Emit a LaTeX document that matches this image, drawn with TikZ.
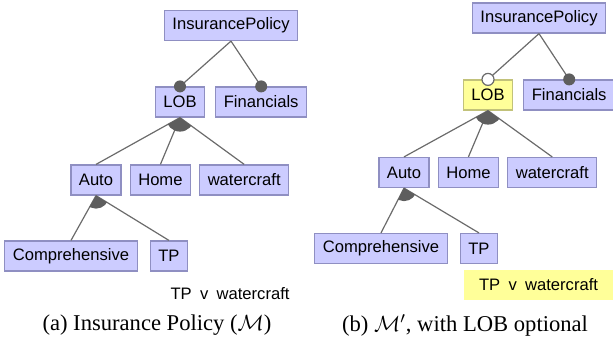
\documentclass[tikz,border=0pt]{standalone}
\usepackage{fontspec}
\setmainfont{Liberation Serif}
\newfontfamily\featfont{Liberation Sans}
\usetikzlibrary{positioning}
\definecolor{featblue}{HTML}{CCCCFF}
\definecolor{featedge}{HTML}{8F8FC2}
\definecolor{optyellow}{HTML}{FFFF99}
\definecolor{yellowedge}{HTML}{C2C27A}
\definecolor{linkgray}{HTML}{6B6B6B}
\definecolor{dotgray}{HTML}{5E5E5E}

\begin{document}
\begin{tikzpicture}[x=0.5pt, y=-0.5pt,
                feature/.style={draw=featedge, fill=featblue, line width=0.6pt,
                                font=\featfont\fontsize{8.3}{10}\selectfont,
                                inner xsep=4pt, inner ysep=0pt, minimum height=15pt},
                optfeat/.style={feature, draw=yellowedge, fill=optyellow},
                link/.style={draw=linkgray, line width=0.6pt},
                mand/.style={fill=dotgray},
                opt/.style={draw=linkgray, line width=0.6pt, fill=white},
                grp/.style={fill=dotgray},
                constr/.style={font=\featfont\fontsize{8.3}{10}\selectfont, inner sep=0pt},
                caption/.style={font=\fontsize{11.3}{13}\selectfont, inner sep=0pt}]

                \useasboundingbox (0,0) rectangle (613,343);

                % (a) Insurance Policy
                \node[feature] (aip) at (231,25.5) {InsurancePolicy};
                \node[feature] (alob) at (180,102) {LOB};
                \node[feature, right=5pt of alob] (afin) {Financials};
                \node[feature] (aauto) at (96,180) {Auto};
                \node[feature, right=4pt of aauto] (ahome) {Home};
                \node[feature, right=4pt of ahome] (awater) {watercraft};
                \node[feature] (acomp) at (71,256) {Comprehensive};
                \node[feature, right=6pt of acomp] (atp) {TP};

                \draw[link] (aip.south) -- (alob.north);
                \draw[link] (aip.south) -- (afin.north);
                \draw[link] (alob.south) -- (aauto.north);
                \draw[link] (alob.south) -- (ahome.north);
                \draw[link] (alob.south) -- (awater.north);
                \draw[link] (aauto.south) -- (acomp.north);
                \draw[link] (aauto.south) -- (atp.north);

                \fill[mand] (alob.north) circle (3pt);
                \fill[mand] (afin.north) circle (3pt);
                \begin{scope}
                    \clip (alob.south) -- (aauto.north) -- (awater.north) -- cycle;
                    \fill[grp] (alob.south) circle (7pt);
                \end{scope}
                \begin{scope}
                    \clip (aauto.south) -- (acomp.north) -- (atp.north) -- cycle;
                    \fill[grp] (aauto.south) circle (6.5pt);
                \end{scope}

                \node[constr] (acons) at (230,294) {TP\enspace v\enspace watercraft};
                \node[caption] (acap) at (157,325) {(a) Insurance Policy ($\mathcal{M}$)};

                % (b) LOB optional
                \node[feature] (bip) at (539,18) {InsurancePolicy};
                \node[optfeat] (blob) at (488,95) {LOB};
                \node[feature, right=5pt of blob] (bfin) {Financials};
                \node[feature] (bauto) at (404,172.5) {Auto};
                \node[feature, right=4pt of bauto] (bhome) {Home};
                \node[feature, right=4pt of bhome] (bwater) {watercraft};
                \node[feature] (bcomp) at (381,248.5) {Comprehensive};
                \node[feature, right=6pt of bcomp] (btp) {TP};

                \draw[link] (bip.south) -- (blob.north);
                \draw[link] (bip.south) -- (bfin.north);
                \draw[link] (blob.south) -- (bauto.north);
                \draw[link] (blob.south) -- (bhome.north);
                \draw[link] (blob.south) -- (bwater.north);
                \draw[link] (bauto.south) -- (bcomp.north);
                \draw[link] (bauto.south) -- (btp.north);

                \filldraw[opt] (blob.north) circle (3pt);
                \fill[mand] (bfin.north) circle (3pt);
                \begin{scope}
                    \clip (blob.south) -- (bauto.north) -- (bwater.north) -- cycle;
                    \fill[grp] (blob.south) circle (7pt);
                \end{scope}
                \begin{scope}
                    \clip (bauto.south) -- (bcomp.north) -- (btp.north) -- cycle;
                    \fill[grp] (bauto.south) circle (6.5pt);
                \end{scope}

                \node[constr, fill=optyellow, minimum width=74.5pt, minimum height=15pt]
                    (bcons) at (538.5,285) {TP\enspace v\enspace watercraft};
                \node[caption] (bcap) at (465,325) {(b) $\mathcal{M}'$, with LOB optional};
\end{tikzpicture}
\end{document}
